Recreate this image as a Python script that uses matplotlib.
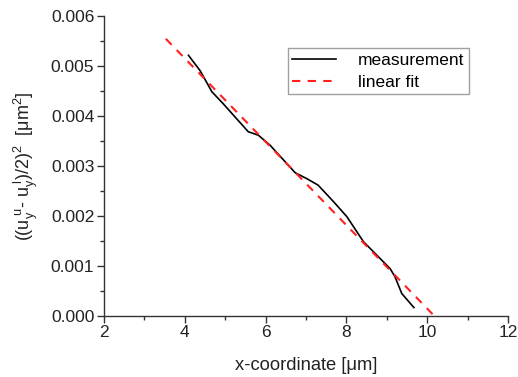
import matplotlib
matplotlib.use("Agg")
import matplotlib.pyplot as plt
import numpy as np
from matplotlib.ticker import MultipleLocator

plt.rcParams['font.family'] = ['Liberation Sans', 'DejaVu Sans']
plt.rcParams['mathtext.fontset'] = 'custom'
plt.rcParams['mathtext.rm'] = 'Liberation Sans'
plt.rcParams['mathtext.it'] = 'Liberation Sans'
plt.rcParams['mathtext.default'] = 'regular'

# measurement data
meas_x = [4.09, 4.38, 4.67, 4.95, 5.57, 5.82, 6.11, 6.73, 7.02, 7.30, 7.68,
          8.01, 8.42, 8.75, 9.08, 9.20, 9.37, 9.67]
meas_y = [0.00521, 0.00490, 0.00448, 0.00424, 0.00368, 0.00361, 0.00341,
          0.00286, 0.00274, 0.00261, 0.00228, 0.00198, 0.00148, 0.00121,
          0.00094, 0.00078, 0.00044, 0.00016]

# linear fit endpoints
fit_x = [3.53, 10.16]
fit_slope = -0.000835
fit_intercept = 0.008488
fit_y = [fit_intercept + fit_slope * x for x in fit_x]

fig = plt.figure(figsize=(5.18, 3.77), dpi=100)
ax = fig.add_axes([0.2008, 0.163, 0.78, 0.795])

ax.plot(meas_x, meas_y, color='black', lw=1.2, label='measurement')
ax.plot(fit_x, fit_y, color='#ff2020', lw=1.5, ls=(0, (4, 3.5)), label='linear fit')

ax.set_xlim(2, 12)
ax.set_ylim(0, 0.006)
ax.xaxis.set_major_locator(MultipleLocator(2))
ax.xaxis.set_minor_locator(MultipleLocator(1))
ax.yaxis.set_major_locator(MultipleLocator(0.001))
ax.yaxis.set_minor_locator(MultipleLocator(0.0005))
ax.yaxis.set_major_formatter(matplotlib.ticker.FormatStrFormatter('%.3f'))

for s in ['top', 'right']:
    ax.spines[s].set_visible(False)
for s in ['left', 'bottom']:
    ax.spines[s].set_color('#333333')
    ax.spines[s].set_linewidth(1.0)

ax.tick_params(which='major', direction='out', length=5, width=1.0,
               labelsize=12.5, colors='#333333', labelcolor='#222222', pad=2)
ax.tick_params(which='minor', direction='out', length=3, width=1.0, colors='#333333')

ax.set_xlabel('x-coordinate [μm]', fontsize=13.2, color='#222222', labelpad=12)
ax.set_ylabel(r'$((u_y^{\ u}$- $u_y^{\ l})/2)^2$  [μm$^2$]', fontsize=13,
              color='#222222', labelpad=8)

leg = ax.legend(loc='upper left', bbox_to_anchor=(0.455, 0.892), fontsize=12.5,
                frameon=True, fancybox=False, edgecolor='#888888',
                handlelength=2.5, handletextpad=1.3, borderpad=0.25,
                labelspacing=0.4, borderaxespad=0)
leg.get_frame().set_linewidth(1.0)

fig.savefig('out.png', dpi=100)
